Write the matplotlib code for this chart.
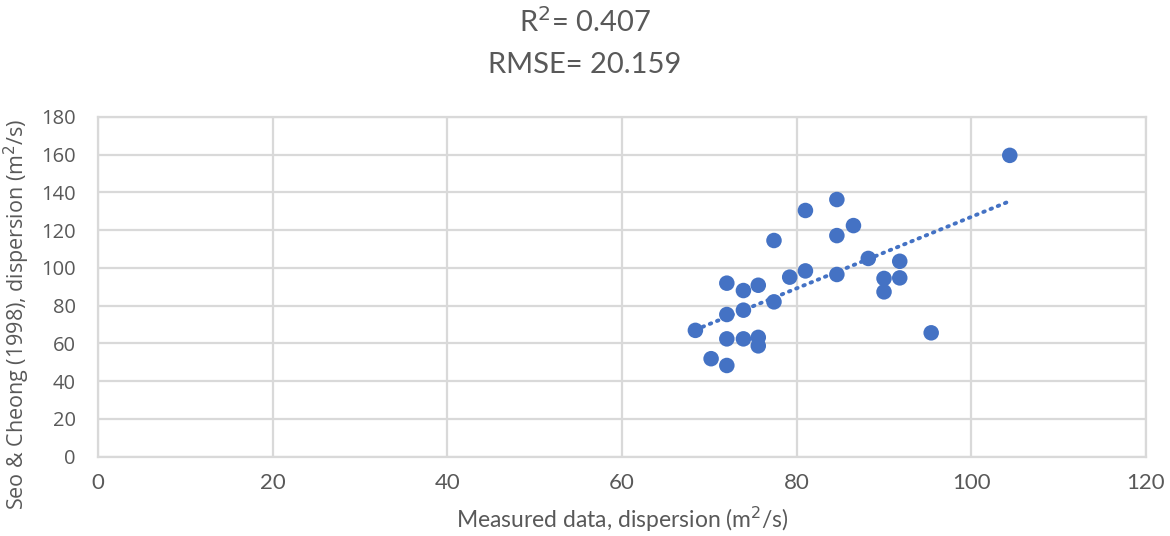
import numpy as np
import matplotlib.pyplot as plt

# Данные
measured = [68.4, 70.2, 72.0, 72.0, 72.0, 72.0, 73.9, 73.9, 73.9, 75.6, 75.6, 75.6,
            77.4, 77.4, 79.2, 81.0, 81.0, 84.6, 84.6, 84.6, 86.5, 88.2, 90.0, 90.0,
            91.8, 91.8, 95.4, 104.4]
seo_cheong = [66.9, 51.9, 48.3, 62.4, 75.3, 91.9, 88.0, 77.6, 62.4, 90.8, 63.2, 58.7,
              114.5, 82.0, 95.1, 130.4, 98.4, 136.2, 117.1, 96.5, 122.4, 105.0, 94.4, 87.3,
              103.5, 94.7, 65.6, 159.6]
x_ticks = [0, 20, 40, 60, 80, 100, 120]
y_ticks = [0, 20, 40, 60, 80, 100, 120, 140, 160, 180]
title_lines = ['R$^2$= 0.407', 'RMSE= 20.159']

blue = '#4472C4'
grey_text = '#595959'
grid_col = '#D9D9D9'

fig = plt.figure(figsize=(11.7, 5.36), dpi=100)
ax = fig.add_axes([0.0838, 0.148, 0.8957, 0.634])

ax.scatter(measured, seo_cheong, s=125, c=blue, edgecolors='none', zorder=3)

# Линейный тренд
k, b = np.polyfit(measured, seo_cheong, 1)
xs = np.array([min(measured), max(measured)])
ax.plot(xs, k * xs + b, color=blue, linewidth=2.8, linestyle=(0, (0.4, 1.6)),
        dash_capstyle='round', zorder=2)

ax.set_xlim(x_ticks[0], x_ticks[-1])
ax.set_ylim(y_ticks[0], y_ticks[-1])
ax.set_xticks(x_ticks)
ax.set_yticks(y_ticks)
ax.set_xticklabels([str(t) for t in x_ticks], fontfamily='Lato', fontsize=16, color=grey_text)
ax.set_yticklabels([str(t) for t in y_ticks], fontfamily='Open Sans', fontsize=14.5, color=grey_text)
ax.tick_params(length=0)
ax.tick_params(axis='y', pad=16)
ax.tick_params(axis='x', pad=12)

ax.grid(True, color=grid_col, linewidth=1.6)
ax.set_axisbelow(True)
for sp in ax.spines.values():
    sp.set_color(grid_col)
    sp.set_linewidth(1.6)

ax.set_xlabel('Measured data, dispersion (m$^2$/s)', fontfamily='Lato', fontsize=16.5,
              color=grey_text, labelpad=8)
ax.set_ylabel('Seo & Cheong (1998), dispersion (m$^2$/s)', fontfamily='Open Sans',
              fontsize=15.5, color=grey_text)
ax.yaxis.set_label_coords(-0.063, 0.42)

fig.text(0.5, 1 - 22 / 536, title_lines[0], ha='center', va='center',
         fontfamily='Lato', fontsize=21, color=grey_text)
fig.text(0.5, 1 - 65 / 536, title_lines[1], ha='center', va='center',
         fontfamily='Lato', fontsize=21, color=grey_text)

fig.savefig('out.png', dpi=100)
